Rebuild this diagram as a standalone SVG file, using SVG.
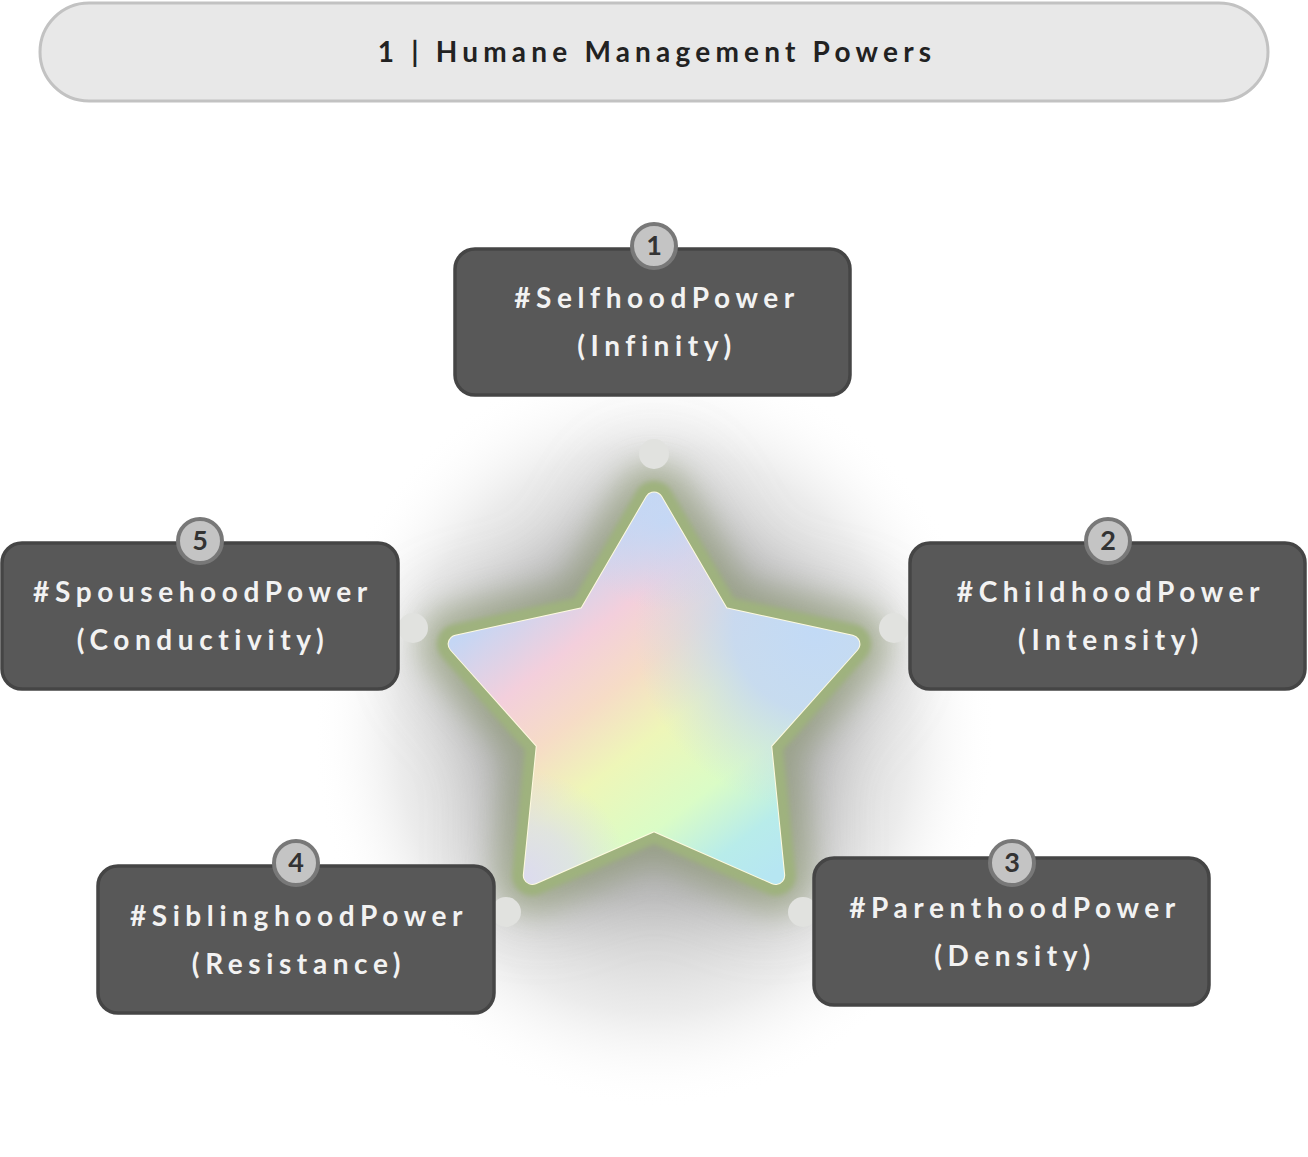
<svg xmlns="http://www.w3.org/2000/svg" xmlns:xlink="http://www.w3.org/1999/xlink" width="1308" height="1157" viewBox="0 0 1308 1157">
<defs>
<style>
.box{fill:#585858;stroke:#454545;stroke-width:3.5}
.badge{fill:#c4c4c4;stroke:#787878;stroke-width:4}
.num{font-family:Lato,"Open Sans",sans-serif;font-weight:700;font-size:27px;fill:#333;text-anchor:middle}
.lbl{font-family:Lato,"Open Sans",sans-serif;font-weight:700;font-size:28px;fill:#f2f2f2;text-anchor:middle;letter-spacing:5.6px}
.title{font-family:Lato,"Open Sans",sans-serif;font-weight:700;font-size:28px;fill:#222;text-anchor:middle;letter-spacing:5.2px}
.dot{fill:#e1e2df}
</style>
<path id="star" d="M654,501 L721,615.8 L850.9,644 L762.4,743.2 L775.7,875.5 L654,822 L532.3,875.5 L545.6,743.2 L457.1,644 L587,615.8 Z" stroke-linejoin="round"/>
<filter id="bigBlur" filterUnits="userSpaceOnUse" x="0" y="0" width="1308" height="1157"><feGaussianBlur stdDeviation="40"/></filter>
<filter id="midBlur" filterUnits="userSpaceOnUse" x="0" y="0" width="1308" height="1157"><feGaussianBlur stdDeviation="14"/></filter>
<filter id="smBlur" filterUnits="userSpaceOnUse" x="0" y="0" width="1308" height="1157"><feGaussianBlur stdDeviation="2.5"/></filter>
<mask id="starMask" maskUnits="userSpaceOnUse" x="0" y="0" width="1308" height="1157">
<use href="#star" fill="#fff" stroke="#fff" stroke-width="17"/>
</mask>
<radialGradient id="halo" gradientUnits="userSpaceOnUse" cx="654" cy="730" r="360" gradientTransform="translate(654 730) scale(0.95 1.05) translate(-654 -730)">
<stop offset="0" stop-color="#9c9c9c" stop-opacity="0.9"/>
<stop offset="0.45" stop-color="#a8a8a8" stop-opacity="0.65"/>
<stop offset="0.75" stop-color="#c8c8c8" stop-opacity="0.35"/>
<stop offset="1" stop-color="#ffffff" stop-opacity="0"/>
</radialGradient>
<linearGradient id="g" gradientUnits="userSpaceOnUse" x1="560" y1="560" x2="790" y2="860">
<stop offset="0" stop-color="#c4d6f4"/>
<stop offset="0.2" stop-color="#f3cfdc"/>
<stop offset="0.36" stop-color="#f6dcc6"/>
<stop offset="0.52" stop-color="#eef6b8"/>
<stop offset="0.72" stop-color="#dafcc6"/>
<stop offset="0.88" stop-color="#b8ecea"/>
<stop offset="1" stop-color="#b6e6f2"/>
</linearGradient>
<radialGradient id="gBlue" gradientUnits="userSpaceOnUse" cx="815" cy="630" r="180">
<stop offset="0" stop-color="#c2daf6" stop-opacity="1"/>
<stop offset="0.45" stop-color="#c4d8f4" stop-opacity="0.9"/>
<stop offset="1" stop-color="#c8d8f0" stop-opacity="0"/>
</radialGradient>
<radialGradient id="gTop" gradientUnits="userSpaceOnUse" cx="665" cy="520" r="90">
<stop offset="0" stop-color="#c2d8f6" stop-opacity="0.9"/>
<stop offset="1" stop-color="#c4d8f4" stop-opacity="0"/>
</radialGradient>
<radialGradient id="gLav" gradientUnits="userSpaceOnUse" cx="520" cy="880" r="110">
<stop offset="0" stop-color="#dcdaf0" stop-opacity="1"/>
<stop offset="0.5" stop-color="#dcdcee" stop-opacity="0.7"/>
<stop offset="1" stop-color="#dcdcee" stop-opacity="0"/>
</radialGradient>
</defs>
<rect width="1308" height="1157" fill="#ffffff"/>

<g id="title">
<rect x="40" y="3" width="1228" height="98" rx="49" fill="#e8e8e8" stroke="#c2c2c2" stroke-width="3"/>
<text class="title" x="657" y="62">1 | Humane Management Powers</text>
</g>

<g id="center-star">
<rect x="0" y="300" width="1308" height="857" fill="url(#halo)"/>
<use href="#star" fill="#808080" stroke="#808080" stroke-width="60" opacity="0.55" filter="url(#bigBlur)"/>
<use href="#star" fill="#8e9c70" stroke="#8e9c70" stroke-width="76" opacity="0.5" filter="url(#midBlur)"/>
<use href="#star" fill="#9fb27e" stroke="#9fb27e" stroke-width="40" filter="url(#smBlur)"/>
<use href="#star" fill="#fffbe0" stroke="#fffbe0" stroke-width="19"/>
<g mask="url(#starMask)">
<rect x="430" y="470" width="450" height="430" fill="url(#g)"/>
<rect x="430" y="470" width="450" height="430" fill="url(#gBlue)"/>
<rect x="430" y="470" width="450" height="430" fill="url(#gTop)"/>
<rect x="430" y="470" width="450" height="430" fill="url(#gLav)"/>
</g>
</g>

<g id="connectors">
<circle class="dot" cx="654" cy="454" r="15"/>
<circle class="dot" cx="894" cy="628" r="15"/>
<circle class="dot" cx="803" cy="912" r="15"/>
<circle class="dot" cx="506" cy="912" r="15"/>
<circle class="dot" cx="413" cy="628" r="15"/>
</g>

<g id="node1">
<rect class="box" x="455" y="249" width="395" height="146" rx="20"/>
<circle class="badge" cx="654" cy="246" r="22"/>
<text class="num" x="654" y="255">1</text>
<text class="lbl" x="657" y="308">#SelfhoodPower</text>
<text class="lbl" x="657" y="356">(Infinity)</text>
</g>

<g id="node2">
<rect class="box" x="910" y="543" width="395" height="146" rx="20"/>
<circle class="badge" cx="1108" cy="541" r="22"/>
<text class="num" x="1108" y="550">2</text>
<text class="lbl" x="1111" y="602">#ChildhoodPower</text>
<text class="lbl" x="1111" y="650">(Intensity)</text>
</g>

<g id="node3">
<rect class="box" x="814" y="858" width="395" height="147" rx="20"/>
<circle class="badge" cx="1012" cy="863" r="22"/>
<text class="num" x="1012" y="872">3</text>
<text class="lbl" x="1015" y="918">#ParenthoodPower</text>
<text class="lbl" x="1015" y="966">(Density)</text>
</g>

<g id="node4">
<rect class="box" x="98" y="866" width="396" height="147" rx="20"/>
<circle class="badge" cx="296" cy="863" r="22"/>
<text class="num" x="296" y="872">4</text>
<text class="lbl" x="299" y="926">#SiblinghoodPower</text>
<text class="lbl" x="299" y="974">(Resistance)</text>
</g>

<g id="node5">
<rect class="box" x="2" y="543" width="396" height="146" rx="20"/>
<circle class="badge" cx="200" cy="541" r="22"/>
<text class="num" x="200" y="550">5</text>
<text class="lbl" x="203" y="602">#SpousehoodPower</text>
<text class="lbl" x="203" y="650">(Conductivity)</text>
</g>
</svg>
